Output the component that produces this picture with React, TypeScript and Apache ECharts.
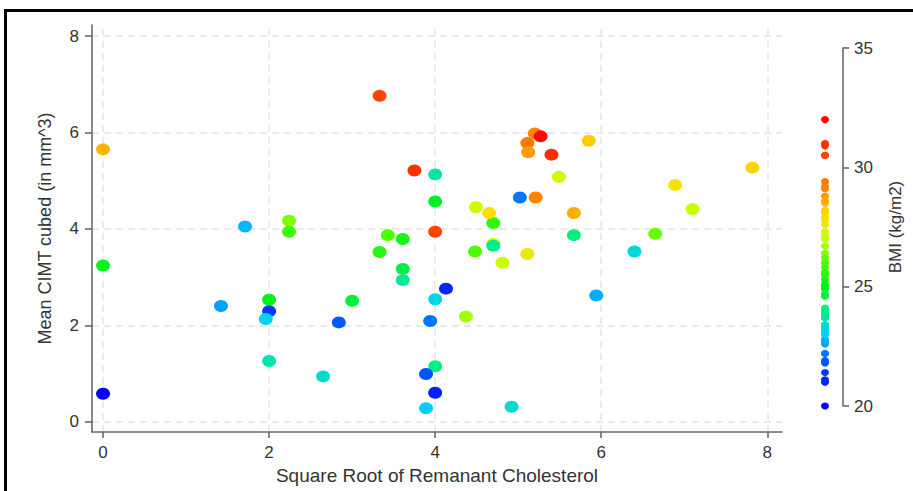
import React, { useEffect, useRef } from "react";
import * as echarts from "echarts";

// Square root of remnant cholesterol (x)
const cholSqrt = [
  3.33, 0.0, 3.75, 4.0, 4.0, 1.71, 2.24, 2.24, 4.0, 3.43,
  3.61, 3.33, 0.0, 3.61, 3.61, 4.0, 2.0, 3.0, 1.42, 2.0,
  1.96, 2.84, 3.94, 2.0, 2.65, 4.0, 3.89, 0.0, 4.0, 3.89,
  4.7, 5.67, 6.65, 4.48, 4.7, 4.7, 5.11, 4.81, 6.4, 4.13,
  4.37, 5.94, 4.92, 5.2, 5.11, 5.12, 5.4, 5.27, 5.85, 5.49,
  5.02, 5.21, 4.49, 4.65, 5.67, 6.89, 7.1, 7.82,
];
// Mean CIMT cubed (y)
const cimtCubed = [
  6.76, 5.65, 5.21, 5.13, 4.57, 4.05, 4.17, 3.94, 3.94, 3.87,
  3.79, 3.52, 3.24, 3.17, 2.94, 2.54, 2.53, 2.51, 2.4, 2.29,
  2.13, 2.06, 2.09, 1.26, 0.94, 1.15, 0.99, 0.58, 0.6, 0.28,
  4.12, 3.87, 3.9, 3.53, 3.69, 3.65, 3.48, 3.3, 3.53, 2.76,
  2.18, 2.62, 0.31, 5.98, 5.78, 5.59, 5.54, 5.92, 5.83, 5.08,
  4.65, 4.65, 4.45, 4.33, 4.33, 4.91, 4.41, 5.27,
];
// BMI (kg/m2), colour dimension
const bmi = [
  30.5, 28.5, 30.9, 23.7, 24.9, 22.8, 26.4, 25.8, 30.5, 26.0,
  25.3, 25.5, 25.1, 24.6, 23.8, 23.2, 25.0, 24.7, 22.6, 21.4,
  23.1, 21.9, 22.2, 23.7, 23.4, 24.0, 21.8, 20.0, 21.0, 23.0,
  25.6, 24.1, 26.2, 26.0, 27.3, 23.9, 27.6, 27.0, 23.3, 21.1,
  26.7, 22.7, 23.4, 29.1, 29.4, 28.8, 31.0, 32.0, 28.2, 27.1,
  22.2, 29.2, 27.1, 27.9, 28.6, 27.8, 27.0, 28.1,
];

const xTicks = [0, 2, 4, 6, 8];
const yTicks = [0, 2, 4, 6, 8];
const bmiTicks = [20, 25, 30, 35];

const xTitle = "Square Root of Remanant Cholesterol";
const yTitle = "Mean CIMT cubed (in mm^3)";
const bmiTitle = "BMI (kg/m2)";

const FONT = "Liberation Sans, Arial, Helvetica, sans-serif";

export default function App() {
  const ref = useRef<HTMLDivElement>(null);

  useEffect(() => {
    if (!ref.current) return;
    const chart = echarts.init(ref.current, null, { renderer: "svg" });

    const mainData = cholSqrt.map((x, i) => [x, cimtCubed[i], bmi[i]]);
    const legendData = bmi.map((b) => [1, b, b]);

    const axisLineStyle = { color: "#6a6a6a", width: 1.6 };
    const gridLine = {
      type: [7, 5] as any,
      color: "#e4e4e4",
      width: 1.5,
    };

    chart.setOption({
      animation: false,
      textStyle: { fontFamily: FONT },
      graphic: [
        {
          type: "rect",
          shape: { x: 5.5, y: 10.5, width: 1000, height: 1000 },
          style: { fill: "none", stroke: "#000", lineWidth: 3 },
          silent: true,
          z: 100,
        },
      ],
      visualMap: {
        type: "continuous",
        show: false,
        min: 20,
        max: 32,
        dimension: 2,
        seriesIndex: [0, 1],
        inRange: {
          color: [
            "#0000ff",
            "#0020ff",
            "#0060ff",
            "#00cdff",
            "#00f082",
            "#00f01e",
            "#4bff00",
            "#c8ff00",
            "#ffdc00",
            "#ff8c00",
            "#ff5a00",
            "#ff2d00",
            "#ff0a00",
          ],
        },
      },
      grid: [
        { left: 92, right: 131, top: 25, bottom: 59 },
        { left: 807, right: 70, top: 48, bottom: 85 },
      ],
      xAxis: [
        {
          type: "value",
          gridIndex: 0,
          min: -0.133,
          max: 8.177,
          axisLine: { show: true, onZero: false, lineStyle: axisLineStyle },
          axisTick: {
            show: true,
            length: 6,
            customValues: xTicks,
            lineStyle: axisLineStyle,
          },
          axisLabel: {
            customValues: xTicks,
            fontSize: 17,
            color: "#333",
            margin: 12,
            fontFamily: FONT,
          },
          splitLine: { show: false },
          name: xTitle,
          nameLocation: "middle",
          nameGap: 31,
          nameTextStyle: { fontSize: 19, color: "#333", fontFamily: FONT },
          z: 2,
        },
        {
          type: "value",
          gridIndex: 1,
          min: 0,
          max: 2,
          show: false,
        },
      ],
      yAxis: [
        {
          type: "value",
          gridIndex: 0,
          min: -0.214,
          max: 8.23,
          axisLine: { show: true, onZero: false, lineStyle: axisLineStyle },
          axisTick: {
            show: true,
            length: 7,
            customValues: yTicks,
            lineStyle: axisLineStyle,
          },
          axisLabel: {
            customValues: yTicks,
            fontSize: 17,
            color: "#333",
            margin: 13,
            fontFamily: FONT,
          },
          splitLine: { show: false },
          name: yTitle,
          nameLocation: "middle",
          nameGap: 38,
          nameRotate: 90,
          nameTextStyle: { fontSize: 18, color: "#333", fontFamily: FONT },
          z: 2,
        },
        {
          type: "value",
          gridIndex: 1,
          position: "right",
          min: 20,
          max: 35,
          interval: 5,
          axisLine: { show: true, onZero: false, lineStyle: axisLineStyle },
          axisTick: { show: true, length: 6, lineStyle: axisLineStyle },
          axisLabel: {
            customValues: bmiTicks,
            fontSize: 17,
            color: "#333",
            margin: 11,
            fontFamily: FONT,
          },
          splitLine: { show: false },
          name: bmiTitle,
          nameLocation: "middle",
          nameGap: 44,
          nameRotate: 90,
          nameTextStyle: { fontSize: 17, color: "#333", fontFamily: FONT },
        },
      ],
      series: [
        {
          type: "scatter",
          xAxisIndex: 0,
          yAxisIndex: 0,
          data: mainData,
          symbol: "circle",
          symbolSize: [14, 12],
          itemStyle: { opacity: 1 },
          z: 5,
          silent: true,
        },
        {
          type: "scatter",
          xAxisIndex: 1,
          yAxisIndex: 1,
          data: legendData,
          symbol: "circle",
          symbolSize: [8, 7],
          itemStyle: { opacity: 1 },
          z: 5,
          silent: true,
        },
        {
          type: "scatter",
          xAxisIndex: 0,
          yAxisIndex: 0,
          data: [],
          z: 0,
          silent: true,
          markLine: {
            silent: true,
            z: 0,
            zlevel: 0,
            symbol: ["none", "none"],
            label: { show: false },
            lineStyle: gridLine,
            emphasis: { disabled: true },
            data: [
              ...xTicks.map((v) => ({ xAxis: v })),
              ...yTicks.map((v) => ({ yAxis: v })),
            ],
          },
        },
      ],
    });

    return () => chart.dispose();
  }, []);

  return (
    <div
      ref={ref}
      style={{
        position: "fixed",
        left: 0,
        top: 0,
        width: 913,
        height: 491,
        background: "#fff",
      }}
    />
  );
}
